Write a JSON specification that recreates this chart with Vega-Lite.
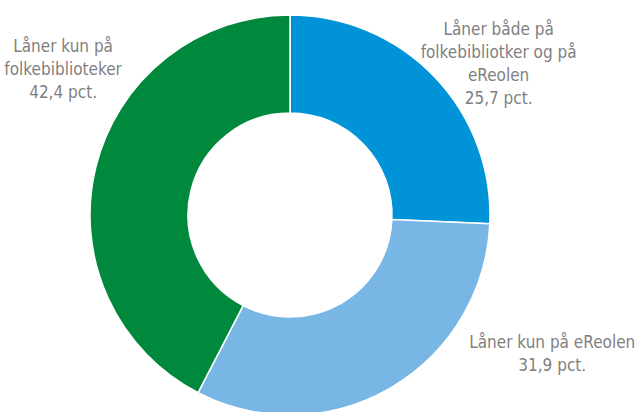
{
  "$schema": "https://vega.github.io/schema/vega-lite/v6.json",
  "width": 580,
  "height": 430,
  "autosize": "none",
  "padding": {"left": 0, "top": 0, "right": 59, "bottom": 0},
  "background": "white",
  "view": {"stroke": null},
  "data": {
    "values": [
      {"rank": 1, "cat": "Låner både på folkebiblioteker og på eReolen", "value": 25.7, "label": "Låner både på\nfolkebibliotker og på\neReolen\n25,7 pct."},
      {"rank": 2, "cat": "Låner kun på eReolen", "value": 31.9, "label": "Låner kun på eReolen\n31,9 pct."},
      {"rank": 3, "cat": "Låner kun på folkebiblioteker", "value": 42.4, "label": "Låner kun på\nfolkebiblioteker\n42,4 pct."}
    ]
  },
  "encoding": {
    "theta": {"field": "value", "type": "quantitative", "stack": true},
    "order": {"field": "rank", "type": "quantitative"}
  },
  "layer": [
    {
      "mark": {"type": "arc", "outerRadius": 200, "innerRadius": 102, "stroke": "white", "strokeWidth": 1.5},
      "encoding": {
        "color": {
          "field": "cat",
          "type": "nominal",
          "scale": {
            "domain": ["Låner både på folkebiblioteker og på eReolen", "Låner kun på eReolen", "Låner kun på folkebiblioteker"],
            "range": ["#0093d8", "#78b6e5", "#00893d"]
          },
          "legend": null
        }
      }
    },
    {
      "mark": {"type": "text", "radius": 250, "dx": 28, "dy": -12, "align": "center", "baseline": "middle", "lineBreak": "\n", "lineHeight": 23, "font": "DejaVu Sans Condensed", "fontSize": 17, "color": "#7f7f7f"},
      "encoding": {"text": {"condition": {"test": "datum.rank == 1", "field": "label"}, "value": ""}}
    },
    {
      "mark": {"type": "text", "radius": 250, "dx": 137, "dy": -88, "align": "center", "baseline": "middle", "lineBreak": "\n", "lineHeight": 23, "font": "DejaVu Sans Condensed", "fontSize": 17, "color": "#7f7f7f"},
      "encoding": {"text": {"condition": {"test": "datum.rank == 2", "field": "label"}, "value": ""}}
    },
    {
      "mark": {"type": "text", "radius": 250, "dx": 16, "dy": -109, "align": "center", "baseline": "middle", "lineBreak": "\n", "lineHeight": 23, "font": "DejaVu Sans Condensed", "fontSize": 17, "color": "#7f7f7f"},
      "encoding": {"text": {"condition": {"test": "datum.rank == 3", "field": "label"}, "value": ""}}
    }
  ]
}
